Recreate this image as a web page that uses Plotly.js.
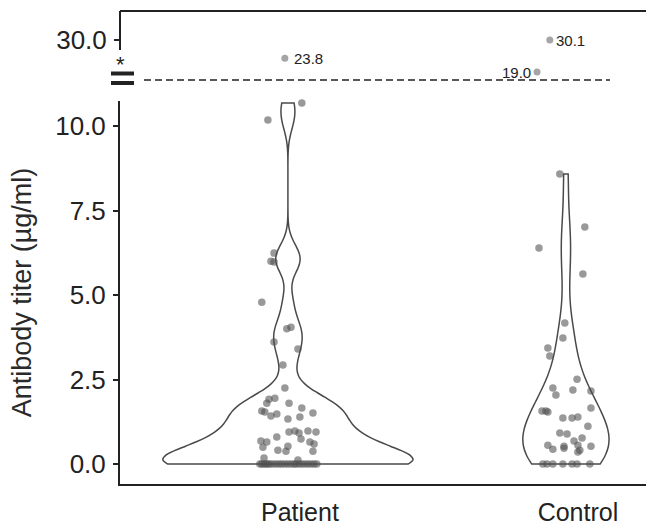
<!DOCTYPE html>
<html>
<head>
<meta charset="utf-8">
<script src="https://cdn.plot.ly/plotly-3.0.1.min.js"></script>
<style>html,body{margin:0;padding:0;background:#fff;}#chart{width:646px;height:525px;}</style>
</head>
<body>
<div id="chart"></div>
<script>
// ---- data ----
const categories = ['Patient', 'Control'];

// Patient titers (µg/ml) shown in the lower panel
const patientValues = [10.68, 10.18, 6.24, 6.00, 5.98, 4.79, 4.05, 4.00, 3.61, 3.40, 2.93, 2.25,
  1.92, 1.95, 1.80, 1.80, 1.57, 1.54, 1.66, 1.51, 1.48, 1.42, 1.39, 1.33,
  0.95, 0.98, 0.92, 0.98, 0.95, 0.80, 0.74, 0.68, 0.65, 0.65, 0.59, 0.50,
  0.53, 0.41, 0.38, 0.38, 0.18, 0.12,
  0, 0, 0, 0, 0, 0, 0, 0, 0, 0, 0, 0, 0, 0, 0, 0, 0, 0, 0, 0, 0, 0];
// horizontal jitter of each patient point (category units)
const patientJitter = [0.050, -0.072, -0.050, -0.061, -0.050, -0.094, 0.011, -0.004, -0.050, 0.036, -0.018, -0.011,
  -0.068, -0.047, -0.076, 0.004, -0.094, -0.083, 0.050, 0.090, -0.040, -0.061, 0.043, 0.000,
  0.004, 0.025, 0.040, 0.072, 0.101, -0.040, 0.047, -0.097, -0.076, 0.079, 0.094, -0.090,
  0.000, -0.036, -0.007, 0.090, -0.086, 0.036,
  -0.101, -0.094, -0.086, -0.079, -0.072, -0.065, -0.054, -0.043, -0.032, -0.022, -0.011,
  0.000, 0.011, 0.022, 0.029, 0.040, 0.050, 0.061, 0.072, 0.083, 0.094, 0.104];

// Control titers (µg/ml) shown in the lower panel
const controlValues = [8.58, 7.01, 6.39, 5.62, 4.17, 3.73, 3.43, 3.20, 2.51, 2.25, 2.19, 2.16,
  2.04, 1.57, 1.57, 1.54, 1.66, 1.36, 1.36, 1.39, 1.12, 0.92, 0.89, 0.77,
  0.68, 0.56, 0.44, 0.53, 0.47, 0.56, 0.53, 0.41, 0.36,
  0, 0, 0, 0, 0, 0, 0];
const controlJitter = [-0.022, 0.068, -0.097, 0.061, -0.004, -0.011, -0.065, -0.058, 0.040, -0.047, 0.025, 0.090,
  -0.036, -0.086, -0.072, -0.065, 0.090, -0.011, 0.022, 0.043, 0.079, -0.022, 0.004, 0.058,
  0.029, -0.065, -0.047, -0.007, -0.007, 0.043, 0.090, 0.050, 0.043,
  -0.083, -0.068, -0.047, -0.011, 0.022, 0.040, 0.086];

// outliers shown above the axis break
const outlierGroup = [0, 1, 1];
const outlierValues = [23.8, 30.1, 19.0];
const outlierJitter = [-0.011, -0.058, -0.104];

// axis ticks
const lowerTicks = [0, 2.5, 5, 7.5, 10];
const upperTicks = [30];

// ---- styling ----
const ink = '#222222';
const ptColor = 'rgba(80,80,80,0.58)';
const font = 'Liberation Sans, Arial, sans-serif';

const traces = [];
const groups = [patientValues, controlValues];
const jitters = [patientJitter, controlJitter];
const violinWidths = [0.90, 0.31];
const bandwidths = [0.4, 0.78];

groups.forEach((vals, g) => {
  traces.push({
    type: 'violin', x0: g, y: vals, name: categories[g],
    width: violinWidths[g], bandwidth: bandwidths[g], spanmode: 'hard',
    points: false, box: {visible: false}, meanline: {visible: false},
    line: {color: '#4a4a4a', width: 1.5}, fillcolor: 'rgba(255,255,255,0)',
    hoverinfo: 'skip', showlegend: false, xaxis: 'x', yaxis: 'y'
  });
});
groups.forEach((vals, g) => {
  traces.push({
    type: 'scatter', mode: 'markers',
    x: vals.map((v, i) => g + jitters[g][i]), y: vals,
    marker: {size: 7.5, color: ptColor, line: {width: 0}},
    cliponaxis: false, showlegend: false, hoverinfo: 'y', xaxis: 'x', yaxis: 'y'
  });
});
traces.push({
  type: 'scatter', mode: 'markers',
  x: outlierValues.map((v, i) => outlierGroup[i] + outlierJitter[i]), y: outlierValues,
  marker: {size: 7, color: 'rgba(100,100,100,0.58)', line: {width: 0}},
  cliponaxis: false, showlegend: false, xaxis: 'x', yaxis: 'y2'
});

const H = 473; // plot area height in px
const py = pix => (484 - pix) / H;   // pixel row -> paper y
const px = pix => (pix - 120) / 526; // pixel column -> paper x
const split = py(101);

const annotations = outlierValues.map((v, i) => {
  const left = i === 2;
  return {
    x: outlierGroup[i] + outlierJitter[i], y: v, xref: 'x', yref: 'y2',
    text: v.toFixed(1), showarrow: false,
    xanchor: left ? 'right' : 'left', xshift: left ? -4 : (i === 0 ? 7 : 4),
    font: {family: font, size: 15, color: ink}
  };
});
annotations.push({
  x: px(120), y: py(64), xref: 'paper', yref: 'paper', text: '*', showarrow: false,
  xanchor: 'center', yanchor: 'middle', font: {family: font, size: 22, color: ink}
});

const shapes = [
  {type: 'line', xref: 'paper', yref: 'paper', x0: 0, x1: 1, y0: 1, y1: 1, line: {color: ink, width: 2}},
  {type: 'line', xref: 'paper', yref: 'paper', x0: 0, x1: 0, y0: py(50), y1: 1, line: {color: ink, width: 2}},
  {type: 'line', xref: 'paper', yref: 'paper', x0: px(144), x1: px(610), y0: py(80), y1: py(80), line: {color: ink, width: 1.5, dash: '7px,4px'}},
  {type: 'line', xref: 'paper', yref: 'paper', x0: px(111), x1: px(134), y0: py(73.5), y1: py(73.5), line: {color: ink, width: 4}},
  {type: 'line', xref: 'paper', yref: 'paper', x0: px(111), x1: px(134), y0: py(83), y1: py(83), line: {color: ink, width: 4}}
];

const layout = {
  width: 646, height: 525,
  margin: {l: 120, r: 0, t: 11, b: 41},
  paper_bgcolor: '#ffffff', plot_bgcolor: '#ffffff',
  showlegend: false, violinmode: 'overlay',
  font: {family: font, color: ink},
  xaxis: {
    range: [-0.604, 1.288], tickvals: [0, 1], ticktext: categories,
    showgrid: false, zeroline: false, showline: true, linecolor: ink, linewidth: 2,
    ticks: '', ticklabelshift: 12, ticklabelstandoff: 5,
    tickfont: {family: font, size: 25, color: ink}, anchor: 'y'
  },
  yaxis: {
    domain: [0, split], range: [-0.59, 10.74], tickvals: lowerTicks, tickformat: '.1f',
    showgrid: false, zeroline: false, showline: true, linecolor: ink, linewidth: 2,
    ticks: 'outside', ticklen: 5, tickwidth: 2, tickcolor: ink, ticklabelstandoff: 2,
    tickfont: {family: font, size: 26, color: ink},
    title: {text: 'Antibody titer (µg/ml)', font: {family: font, size: 27, color: '#2a2a2a'}, standoff: 16},
    anchor: 'x'
  },
  yaxis2: {
    domain: [split, 1], range: [8.94, 40.16], tickvals: upperTicks, tickformat: '.1f',
    showgrid: false, zeroline: false, showline: false,
    ticks: 'outside', ticklen: 5, tickwidth: 2, tickcolor: ink, ticklabelstandoff: 2,
    tickfont: {family: font, size: 26, color: ink}, anchor: 'x'
  },
  shapes: shapes,
  annotations: annotations
};

Plotly.newPlot('chart', traces, layout, {displayModeBar: false, staticPlot: true});
</script>
</body>
</html>
